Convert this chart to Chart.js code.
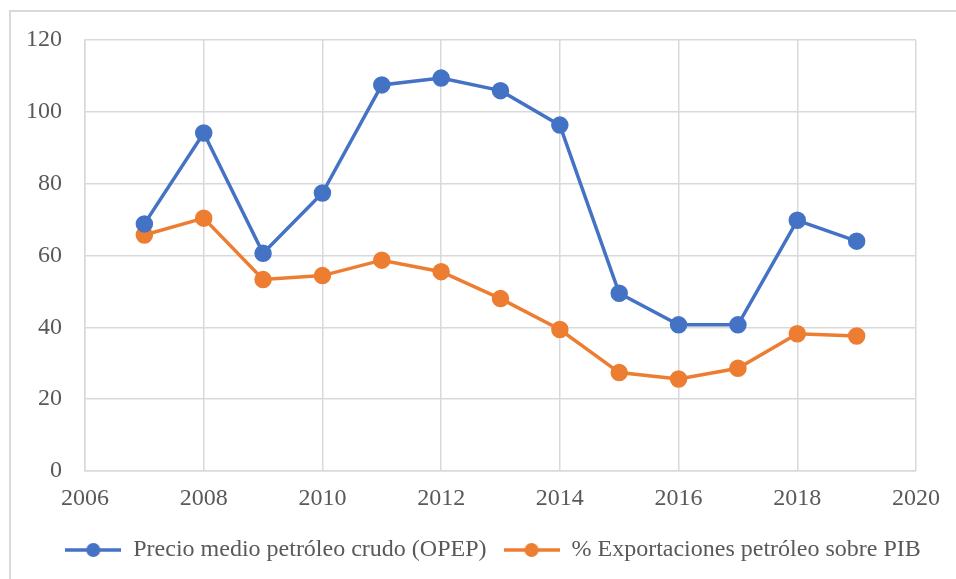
<!DOCTYPE html>
<html>
<head>
<meta charset="utf-8">
<script src="https://cdn.jsdelivr.net/npm/chart.js@4"></script>
<style>
  html, body { margin: 0; padding: 0; background: #fff; overflow: hidden; }
  #frame { position: absolute; left: 9px; top: 10px; width: 2000px; height: 2000px; border: 2px solid #d9d9d9; }
  #wrap { position: absolute; left: 0; top: 0; width: 956px; height: 579px; }
</style>
</head>
<body>
<div id="frame"></div>
<div id="wrap"><canvas id="myLine" width="956" height="579"></canvas></div>
<script>
// data
var years = [2007, 2008, 2009, 2010, 2011, 2012, 2013, 2014, 2015, 2016, 2017, 2018, 2019];
var precioOpep = [68.8, 94.1, 60.6, 77.4, 107.5, 109.4, 105.9, 96.3, 49.5, 40.7, 40.7, 69.8, 64.0];
var exportPib = [65.7, 70.4, 53.3, 54.4, 58.7, 55.5, 48.0, 39.4, 27.4, 25.6, 28.6, 38.2, 37.6];
var labelsSeries = ["Precio medio petróleo crudo (OPEP)", "% Exportaciones petróleo sobre PIB"];
var colors = ["#4472C4", "#ED7D31"];

var font = "'Liberation Serif', 'Times New Roman', serif";
var grey = "#595959";
var grid = "#d9d9d9";

function points(vals) {
  return years.map(function (y, i) { return { x: y, y: vals[i] }; });
}

// legend marker: line with a dot in the middle
function marker(color) {
  var c = document.createElement('canvas');
  c.width = 56; c.height = 16;
  var g = c.getContext('2d');
  g.strokeStyle = color; g.lineWidth = 3.5;
  g.beginPath(); g.moveTo(0, 8); g.lineTo(56, 8); g.stroke();
  g.fillStyle = color;
  g.beginPath(); g.arc(28, 8, 7, 0, Math.PI * 2); g.fill();
  return c;
}

// move the legend a bit to the right, like the original
var shiftLegend = {
  id: 'shiftLegend',
  afterLayout: function (chart) {
    chart.legend.left += 35;
    chart.legend.right += 35;
  }
};

Chart.defaults.font.family = font;
Chart.defaults.color = grey;

var ctx = document.getElementById('myLine');
var lineChart = new Chart(ctx, {
  type: 'line',
  data: {
    datasets: [{
      label: labelsSeries[0],
      data: points(precioOpep),
      borderColor: colors[0],
      backgroundColor: colors[0],
      borderWidth: 3.5,
      pointRadius: 7,
      pointHoverRadius: 7,
      fill: false
    }, {
      label: labelsSeries[1],
      data: points(exportPib),
      borderColor: colors[1],
      backgroundColor: colors[1],
      borderWidth: 3.5,
      pointRadius: 7,
      pointHoverRadius: 7,
      fill: false
    }]
  },
  options: {
    responsive: false,
    animation: false,
    layout: { padding: { left: 0, right: 40, top: 40, bottom: 7 } },
    scales: {
      x: {
        type: 'linear',
        min: 2006, max: 2020,
        ticks: { stepSize: 2, padding: 13, font: { size: 24 }, color: grey, callback: function (v) { return String(v); } },
        grid: { color: grid, lineWidth: 1.5, drawTicks: false },
        border: { color: grid, width: 1.5 },
        afterFit: function (s) { s.height = 50; }
      },
      y: {
        min: 0, max: 120,
        ticks: { stepSize: 20, padding: 23, font: { size: 24 }, color: grey },
        grid: { color: grid, lineWidth: 1.5, drawTicks: false },
        border: { color: grid, width: 1.5 },
        afterFit: function (s) { s.width = 85; }
      }
    },
    plugins: {
      tooltip: { enabled: false },
      legend: {
        position: 'bottom',
        labels: {
          usePointStyle: true,
          pointStyleWidth: 56,
          padding: 17,
          color: grey,
          font: { size: 24 },
          generateLabels: function (chart) {
            return chart.data.datasets.map(function (d, i) {
              return { text: d.label, pointStyle: marker(colors[i]), fillStyle: colors[i], strokeStyle: colors[i], lineWidth: 0, fontColor: grey, datasetIndex: i, hidden: false };
            });
          }
        }
      }
    }
  },
  plugins: [shiftLegend]
});
</script>
</body>
</html>
